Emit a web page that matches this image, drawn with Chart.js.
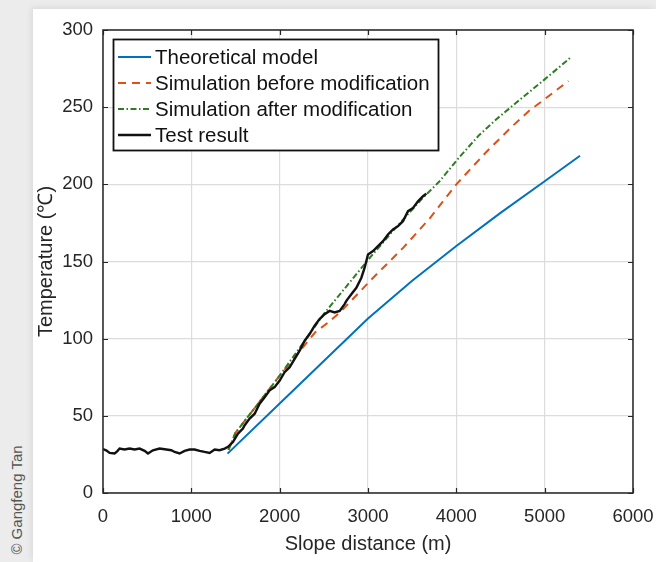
<!DOCTYPE html>
<html>
<head>
<meta charset="utf-8">
<script src="https://cdn.jsdelivr.net/npm/chart.js@4.4.1/dist/chart.umd.min.js"></script>
<style>
  html, body { margin: 0; padding: 0; }
  body { width: 656px; height: 562px; background: #ececec; position: relative; overflow: hidden; }
  #paper { position: absolute; left: 33px; top: 9px; width: 623px; height: 553px; background: #fff; box-shadow: -2px -2px 6px rgba(0,0,0,0.07); }
  #wrap { position: absolute; left: 0; top: 0; width: 656px; height: 562px; }
  #credit { position: absolute; left: 16px; top: 500px; transform: translate(-50%, -50%) rotate(-90deg); font: 15px "Liberation Sans", Arial, sans-serif; color: #555; white-space: nowrap; }
</style>
</head>
<body>
<div id="paper"></div>
<div id="credit">© Gangfeng Tan</div>
<div id="wrap"><canvas id="tempChart" width="656" height="562"></canvas></div>
<script>
// axis ticks
const distanceTicks = [0, 1000, 2000, 3000, 4000, 5000, 6000];
const temperatureTicks = [0, 50, 100, 150, 200, 250, 300];

// Theoretical model
const theoryX = [1410, 2000, 2500, 3000, 3500, 4000, 4500, 5000, 5400];
const theoryY = [25.5, 58, 85.5, 113, 137.5, 160, 181.5, 202, 218.5];

// Simulation before modification
const simBeforeX = [1420, 1500, 2000, 2400, 2550, 2700, 2850, 3050, 3400, 3700, 4000, 4340, 4640, 4830, 4950, 5270];
const simBeforeY = [28, 39, 76, 104, 110.5, 118, 127, 139, 159, 178, 200, 221, 238, 248, 253, 267];

// Simulation after modification
const simAfterX = [1420, 1500, 2000, 2500, 3000, 3300, 3600, 3810, 4040, 4260, 4450, 4680, 5000, 5290];
const simAfterY = [28, 39, 76, 116, 151, 171, 190, 202, 218, 232, 242, 253, 268, 282];

// Test result
const testX = [0, 40, 75, 131, 160, 188, 244, 301, 358, 414, 471, 509, 565, 641, 717, 773, 811, 867, 924, 981,
  1037, 1094, 1150, 1207, 1264, 1320, 1377, 1415, 1471, 1528, 1584, 1604, 1660, 1717, 1773, 1830, 1887, 1943,
  2000, 2056, 2113, 2170, 2226, 2283, 2339, 2396, 2452, 2509, 2566, 2622, 2679, 2735, 2755, 2811, 2868, 2925,
  2962, 3000, 3057, 3113, 3170, 3226, 3283, 3340, 3396, 3453, 3510, 3566, 3623, 3660];
const testY = [28.5, 27.5, 26, 25.6, 27, 28.8, 28.2, 28.8, 28.2, 28.8, 27.3, 25.6, 27.7, 28.8, 28.2, 27.7, 26.6, 25.6, 27.3, 28.2,
  28.2, 27.3, 26.6, 26, 28.2, 27.7, 28.8, 29.9, 33, 38.5, 41.7, 43.9, 48.2, 51.4, 57.9, 62.1, 66.5, 68.6,
  72.9, 78.3, 81.5, 86.9, 92.3, 98.7, 103, 108.4, 112.7, 115.9, 118, 117, 118, 122.4, 124.5, 128.8, 133, 139.5,
  146, 154.6, 156.8, 160, 163.2, 167.5, 170.8, 172.9, 176.1, 182.6, 184.7, 189, 192.3, 194];

const textColor = '#262626';
const fontFamily = '"Liberation Sans", Arial, sans-serif';

const toPoints = function (xs, ys) {
  var pts = [];
  for (var i = 0; i < xs.length; i++) {
    pts.push({ x: xs[i], y: ys[i] });
  }
  return pts;
};

const plainLabel = function (value) {
  return String(value);
};

// box, inward ticks and legend drawn like a MATLAB figure
const matlabFrame = {
  id: 'matlabFrame',
  afterDraw: function (chart) {
    var ctx = chart.ctx;
    var area = chart.chartArea;
    var xs = chart.scales.x;
    var ys = chart.scales.y;
    var tick = 5;

    ctx.save();
    ctx.strokeStyle = textColor;
    ctx.lineWidth = 1.2;
    ctx.beginPath();
    distanceTicks.forEach(function (v) {
      var px = Math.round(xs.getPixelForValue(v)) + 0.5;
      ctx.moveTo(px, area.bottom); ctx.lineTo(px, area.bottom - tick);
      ctx.moveTo(px, area.top); ctx.lineTo(px, area.top + tick);
    });
    temperatureTicks.forEach(function (v) {
      var py = Math.round(ys.getPixelForValue(v)) + 0.5;
      ctx.moveTo(area.left, py); ctx.lineTo(area.left + tick, py);
      ctx.moveTo(area.right, py); ctx.lineTo(area.right - tick, py);
    });
    ctx.stroke();
    ctx.lineWidth = 1.5;
    ctx.strokeRect(area.left, area.top, area.right - area.left, area.bottom - area.top);

    // legend
    var lx = 113.5, ly = 39.5, lw = 325, lh = 111;
    ctx.fillStyle = '#fff';
    ctx.fillRect(lx, ly, lw, lh);
    ctx.strokeStyle = '#111';
    ctx.lineWidth = 1.8;
    ctx.strokeRect(lx, ly, lw, lh);
    ctx.font = '20.5px ' + fontFamily;
    ctx.textBaseline = 'middle';
    chart.data.datasets.forEach(function (ds, i) {
      var y = 57 + i * 26;
      ctx.strokeStyle = ds.borderColor;
      ctx.lineWidth = ds.borderWidth;
      ctx.setLineDash(ds.borderDash || []);
      ctx.beginPath();
      ctx.moveTo(118, y); ctx.lineTo(151, y);
      ctx.stroke();
      ctx.setLineDash([]);
      ctx.fillStyle = '#111';
      ctx.fillText(ds.label, 155, y + 1);
    });
    ctx.restore();
  }
};

var config = {
  type: 'line',
  data: {
    datasets: [
      {
        label: 'Theoretical model',
        data: toPoints(theoryX, theoryY),
        borderColor: '#0072BD',
        borderWidth: 2,
        order: 3
      },
      {
        label: 'Simulation before modification',
        data: toPoints(simBeforeX, simBeforeY),
        borderColor: '#D95319',
        borderWidth: 2,
        borderDash: [8, 6],
        order: 2
      },
      {
        label: 'Simulation after modification',
        data: toPoints(simAfterX, simAfterY),
        borderColor: '#2E7D22',
        borderWidth: 2,
        borderDash: [6, 2.5, 1.5, 2.5],
        order: 1
      },
      {
        label: 'Test result',
        data: toPoints(testX, testY),
        borderColor: '#111111',
        borderWidth: 2.4,
        order: 0
      }
    ]
  },
  options: {
    responsive: false,
    animation: false,
    layout: { padding: { top: 30, right: 23, left: 0, bottom: 0 } },
    elements: {
      point: { radius: 0 },
      line: { tension: 0, fill: false, borderCapStyle: 'butt' }
    },
    plugins: {
      legend: { display: false },
      tooltip: { enabled: false }
    },
    scales: {
      x: {
        type: 'linear',
        min: distanceTicks[0],
        max: distanceTicks[distanceTicks.length - 1],
        afterBuildTicks: function (scale) {
          scale.ticks = distanceTicks.map(function (v) { return { value: v }; });
        },
        afterFit: function (scale) {
          scale.height = 69;
          scale.paddingLeft = 0;
          scale.paddingRight = 0;
        },
        grid: { color: '#dcdcdc', lineWidth: 1.2, drawTicks: false },
        border: { display: false },
        ticks: { color: textColor, padding: 13, maxRotation: 0, callback: plainLabel, font: { family: fontFamily, size: 18.5 } },
        title: {
          display: true,
          text: 'Slope distance (m)',
          color: textColor,
          padding: { top: 0, bottom: 6 },
          font: { family: fontFamily, size: 20 }
        }
      },
      y: {
        min: temperatureTicks[0],
        max: temperatureTicks[temperatureTicks.length - 1],
        afterBuildTicks: function (scale) {
          scale.ticks = temperatureTicks.map(function (v) { return { value: v }; });
        },
        afterFit: function (scale) {
          scale.width = 103;
          scale.paddingTop = 0;
          scale.paddingBottom = 0;
        },
        grid: { color: '#dcdcdc', lineWidth: 1.2, drawTicks: false },
        border: { display: false },
        ticks: { color: textColor, padding: 10, callback: plainLabel, font: { family: fontFamily, size: 18.5 } },
        title: {
          display: true,
          text: 'Temperature (℃)',
          color: textColor,
          padding: { top: 34, bottom: 0 },
          font: { family: fontFamily, size: 20 }
        }
      }
    }
  },
  plugins: [matlabFrame]
};

var ctxTemp = document.getElementById('tempChart').getContext('2d');
new Chart(ctxTemp, config);
</script>
</body>
</html>
